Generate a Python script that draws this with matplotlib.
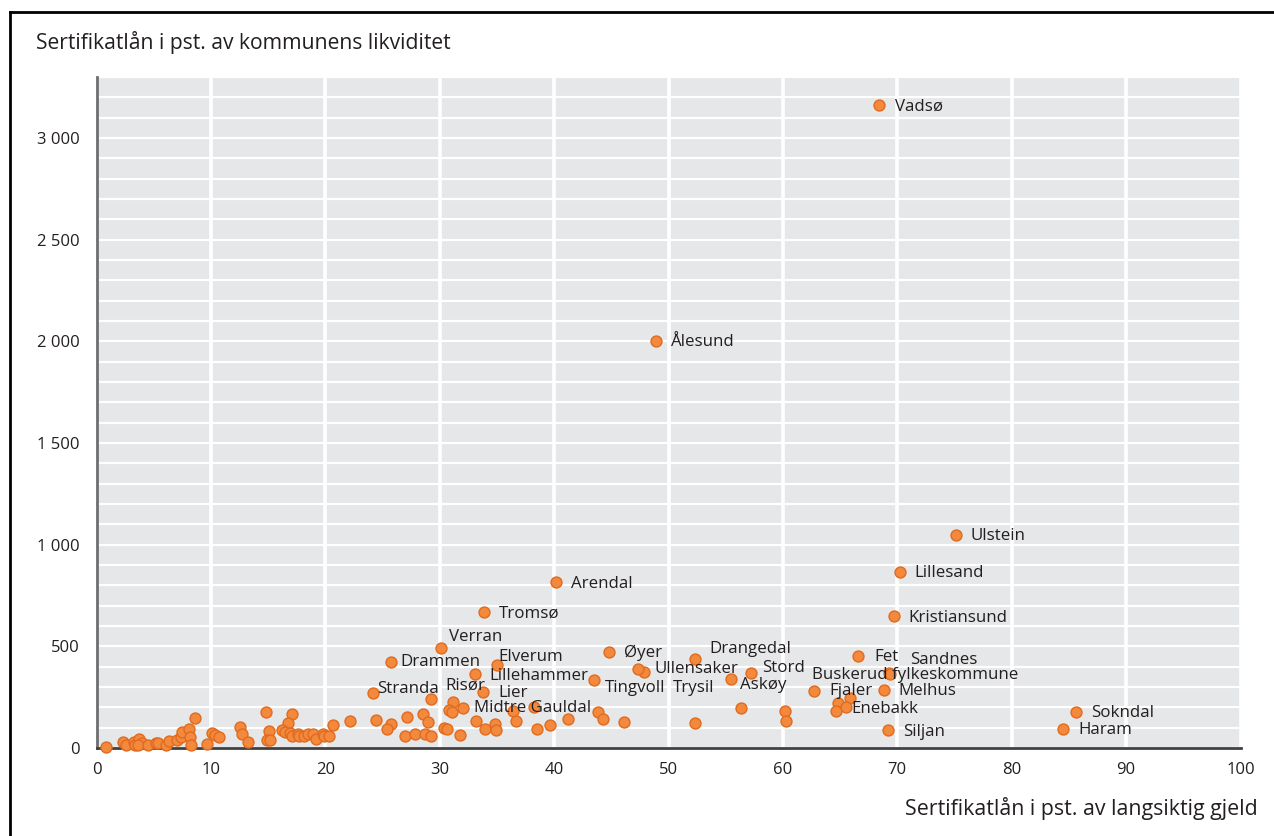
import matplotlib
matplotlib.use("Agg")
import matplotlib.pyplot as plt
from matplotlib.ticker import MultipleLocator, FuncFormatter
from matplotlib.lines import Line2D

# ---------------- data ----------------
labeled_names = ["Vadsø", "Ålesund", "Ulstein", "Lillesand", "Kristiansund", "Arendal",
                 "Tromsø", "Verran", "Drammen", "Elverum", "Lillehammer", "Stranda",
                 "Risør", "Lier", "Midtre Gauldal", "Tingvoll", "Øyer", "Ullensaker",
                 "Trysil", "Drangedal", "Stord", "Askøy", "Buskerud fylkeskommune",
                 "Sandnes", "Fet", "Fjaler", "Melhus", "Enebakk", "Siljan", "Sokndal", "Haram"]
labeled_x = [68.4, 48.9, 75.1, 70.2, 69.7, 40.2,
             33.9, 30.1, 25.7, 35.0, 33.1, 24.2,
             29.2, 33.8, 32.0, 43.5, 44.8, 47.9,
             47.3, 52.3, 57.2, 55.5, 69.3,
             69.4, 66.6, 62.7, 68.8, 65.5, 69.2, 85.6, 84.5]
labeled_y = [3160, 2000, 1050, 864, 648, 815,
             668, 493, 422, 406, 362, 272,
             242, 275, 198, 334, 473, 373,
             389, 436, 370, 339, 371,
             366, 454, 281, 285, 203, 87, 175, 95]

other_x = [0.8, 2.3, 2.6, 3.3, 3.4, 3.7, 4.0, 3.6, 4.5, 5.2, 5.4, 6.1, 6.3, 7.0, 7.4, 7.5,
           8.1, 8.2, 8.3, 8.6, 9.7, 10.1, 10.4, 10.7,
           12.5, 12.7, 13.2, 14.8, 15.1, 14.9, 15.2, 17.1, 16.7, 16.2, 16.5, 16.9, 17.1,
           17.6, 17.7, 18.1, 18.5, 18.9, 19.2, 19.8, 19.9, 20.3, 20.7, 22.2,
           24.4, 25.7, 25.4, 27.1, 28.5, 29.0, 27.0, 27.8, 28.7, 29.2,
           31.2, 30.8, 31.1, 30.4, 30.6, 31.8,
           36.4, 38.2, 33.2, 34.0, 34.8, 34.9, 36.7, 38.5, 39.6, 41.2, 43.8,
           44.3, 46.1, 52.3, 56.3, 60.2, 60.3, 65.9, 64.8, 64.6]
other_y = [5, 28, 16, 29, 15, 46, 26, 13, 15, 23, 26, 15, 33, 38, 54, 77,
           95, 54, 16, 147, 20, 75, 65, 53,
           102, 67, 28, 175, 83, 38, 39, 167, 124, 87, 77, 75, 60,
           70, 57, 60, 67, 70, 43, 70, 60, 60, 114, 134,
           136, 116, 93, 152, 168, 129, 58, 69, 67, 57,
           224, 187, 177, 98, 95, 64,
           182, 203, 133, 95, 116, 88, 133, 95, 114, 142, 175,
           142, 129, 124, 198, 182, 131, 247, 222, 183]

# label offsets (pixels, right / up) relative to each labeled point
label_offsets = {
    "Vadsø": (16, -1), "Ålesund": (15, -1), "Ulstein": (15, -1), "Lillesand": (15, -1),
    "Kristiansund": (15, -2), "Arendal": (15, -2), "Tromsø": (15, -1), "Verran": (8, 11),
    "Drammen": (10, 0), "Elverum": (1, 8), "Lillehammer": (14, -2), "Stranda": (4, 4),
    "Risør": (15, 13), "Lier": (15, -1), "Midtre Gauldal": (11, 0), "Tingvoll": (11, -8),
    "Øyer": (15, -1), "Ullensaker": (10, 3), "Trysil": (35, -19), "Drangedal": (15, 10),
    "Stord": (11, 5), "Askøy": (9, -6), "Buskerud fylkeskommune": (-77, -2),
    "Sandnes": (20, 14), "Fet": (16, -1), "Fjaler": (16, 0), "Melhus": (15, -1),
    "Enebakk": (6, -2), "Siljan": (15, -2), "Sokndal": (15, -1), "Haram": (15, -1),
}

# ---------------- style ----------------
FONT = ["Open Sans", "DejaVu Sans"]
TEXT_COLOR = "#231f20"
plt.rcParams["font.family"] = FONT

fig = plt.figure(figsize=(12.74, 8.36), dpi=100)
ax = fig.add_axes([96.5 / 1274, 1 - 748 / 836, (1240.5 - 96.5) / 1274, (748 - 77) / 836])
ax.set_facecolor("#e6e7e8")

ax.set_xlim(0, 100)
ax.set_ylim(0, 3300)

ax.xaxis.set_major_locator(MultipleLocator(10))
ax.yaxis.set_major_locator(MultipleLocator(500))
ax.yaxis.set_minor_locator(MultipleLocator(100))
ax.yaxis.set_major_formatter(FuncFormatter(lambda v, p: f"{int(v):,}".replace(",", " ")))

ax.grid(axis="x", which="major", color="white", linewidth=2.6, zorder=0)
ax.grid(axis="y", which="both", color="white", linewidth=1.6, zorder=0)
ax.set_axisbelow(True)

ax.tick_params(axis="both", which="both", length=0, labelsize=12, colors=TEXT_COLOR)
ax.tick_params(axis="y", pad=12)
ax.tick_params(axis="x", pad=10)

for s in ("top", "right"):
    ax.spines[s].set_visible(False)
ax.spines["left"].set_color("#6d6e71")
ax.spines["left"].set_linewidth(2)
ax.spines["bottom"].set_color("#414042")
ax.spines["bottom"].set_linewidth(2)

marker_kw = dict(s=62, facecolor="#f3893c", edgecolor="#e06b20", linewidth=1.0, zorder=3, clip_on=False)
ax.scatter(other_x, other_y, **marker_kw)
ax.scatter(labeled_x, labeled_y, **marker_kw)

for name, x, y in zip(labeled_names, labeled_x, labeled_y):
    dx, dy = label_offsets[name]
    ax.annotate(name, (x, y), xytext=(dx, dy), textcoords="offset pixels",
                ha="left", va="center", fontsize=12.2, color=TEXT_COLOR, zorder=4)

fig.text(36 / 1274, 1 - 42 / 836, "Sertifikatlån i pst. av kommunens likviditet",
         ha="left", va="center", fontsize=15.2, color=TEXT_COLOR)
fig.text(1258 / 1274, 1 - 809 / 836, "Sertifikatlån i pst. av langsiktig gjeld",
         ha="right", va="center", fontsize=15.4, color=TEXT_COLOR)

# outer frame
fig.add_artist(Line2D([10 / 1274, 10 / 1274], [0, 1 - 12 / 836], color="black", linewidth=2,
                      transform=fig.transFigure))
fig.add_artist(Line2D([10 / 1274, 1], [1 - 12 / 836, 1 - 12 / 836], color="black", linewidth=2,
                      transform=fig.transFigure))

fig.savefig("out.png", dpi=100)
